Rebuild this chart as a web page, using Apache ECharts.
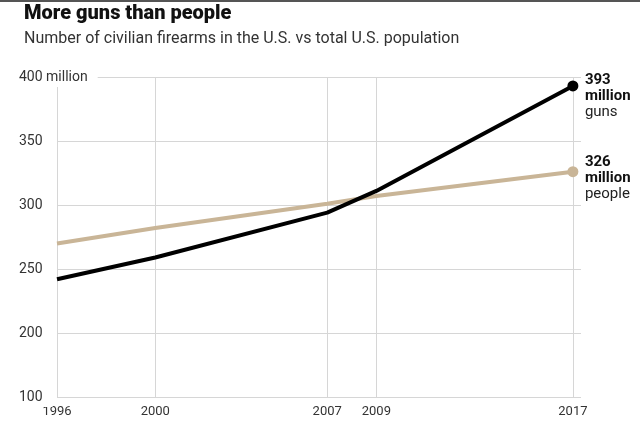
<!DOCTYPE html>
<html>
<head>
<meta charset="utf-8">
<style>
html,body{margin:0;padding:0;background:#fff;}
#c{width:640px;height:423px;}
</style>
<script src="https://cdn.jsdelivr.net/npm/echarts@6/dist/echarts.min.js"></script>
</head>
<body>
<div id="c"></div>
<script>
const years = [1996, 2000, 2007, 2009, 2017];
const guns = [242, 259, 294, 311, 393];
const people = [270, 282, 301, 307, 326];
const yTicks = [150, 200, 250, 300, 350, 400];
const yTickLabels = ['100', '200', '250', '300', '350', '400 million'];
const gunsLabel = ['393', 'million', 'guns'];
const peopleLabel = ['326', 'million', 'people'];

const FONT = 'Roboto, "Liberation Sans", sans-serif';
const chart = echarts.init(document.getElementById('c'), null, {renderer: 'canvas'});

function pairs(vals) {
  return years.map((y, i) => ({value: [y, vals[i]], symbolSize: i === years.length - 1 ? 11 : 0}));
}
function yFmt(v) { const i = yTicks.indexOf(v); return i >= 0 ? yTickLabels[i] : ''; }

const endRich = {
  b: {fontFamily: FONT, fontWeight: 'bold', fontSize: 15, color: '#111', lineHeight: 16},
  n: {fontFamily: FONT, fontSize: 15, color: '#222', lineHeight: 16}
};

chart.setOption({
  animation: false,
  backgroundColor: '#fff',
  graphic: [{type: 'rect', shape: {x: 0, y: 0, width: 640, height: 2}, style: {fill: '#555'}}],
  title: {
    text: 'More guns than people',
    subtext: 'Number of civilian firearms in the U.S. vs total U.S. population',
    left: 19, top: -1, itemGap: 7,
    textStyle: {fontFamily: FONT, fontWeight: 900, fontSize: 20, color: '#111'},
    subtextStyle: {fontFamily: FONT, fontSize: 16, color: '#333'}
  },
  grid: {left: 57, right: 59, top: 77, bottom: 26},
  xAxis: {
    type: 'value', min: 1996, max: 2017.33,
    axisLine: {show: false},
    axisTick: {show: false, customValues: years},
    axisLabel: {customValues: years, formatter: v => String(v), fontFamily: FONT, fontSize: 13, color: '#333', margin: 8},
    splitLine: {show: true, lineStyle: {color: '#d6d6d6', width: 1}}
  },
  yAxis: [{
    type: 'value', min: 150, max: 400, interval: 50,
    axisLine: {show: false}, axisTick: {show: false},
    axisLabel: {show: false},
    splitLine: {show: true, lineStyle: {color: '#d6d6d6', width: 1}}
  }, {
    type: 'value', min: 150, max: 400, interval: 50, position: 'left', z: 20,
    axisLine: {show: false}, axisTick: {show: false},
    splitLine: {show: false},
    axisLabel: {
      formatter: yFmt, align: 'left', margin: 38,
      fontFamily: FONT, fontSize: 14, color: '#333',
      backgroundColor: '#fff', padding: [3, 10, 3, 0]
    }
  }],
  series: [{
    name: 'people', type: 'line', data: pairs(people),
    lineStyle: {color: '#c9b597', width: 4},
    itemStyle: {color: '#c9b597'},
    symbol: 'circle',
    emphasis: {disabled: true},
    endLabel: {
      show: true, distance: 12, offset: [0, 7],
      formatter: () => '{b|' + peopleLabel[0] + '}\n{b|' + peopleLabel[1] + '}\n{n|' + peopleLabel[2] + '}',
      rich: endRich
    }
  }, {
    name: 'guns', type: 'line', data: pairs(guns),
    lineStyle: {color: '#000', width: 4},
    itemStyle: {color: '#000'},
    symbol: 'circle',
    emphasis: {disabled: true},
    endLabel: {
      show: true, distance: 12, offset: [0, 10],
      formatter: () => '{b|' + gunsLabel[0] + '}\n{b|' + gunsLabel[1] + '}\n{n|' + gunsLabel[2] + '}',
      rich: endRich
    }
  }]
});
</script>
</body>
</html>
